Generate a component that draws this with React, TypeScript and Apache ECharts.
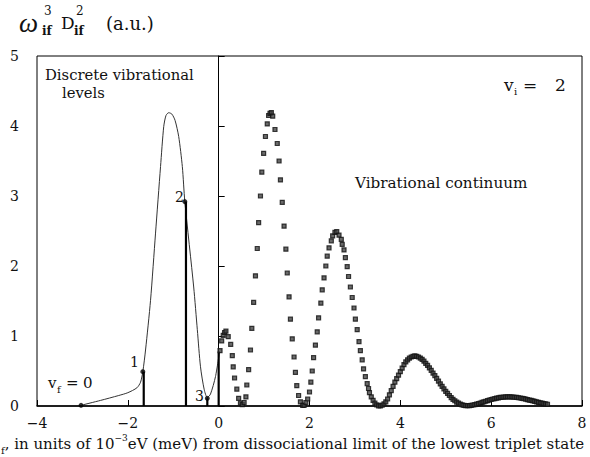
import React, { useEffect, useRef } from "react";
import * as echarts from "echarts";

// Discrete bound-level envelope curve (x in meV, y in a.u.)
const discreteCurve: number[][] = [
  [-3.03, 0.01], [-2.6, 0.08], [-2.2, 0.15], [-2.0, 0.19], [-1.8, 0.26], [-1.72, 0.34],
  [-1.67, 0.49], [-1.61, 0.8], [-1.5, 1.51], [-1.39, 2.47], [-1.28, 3.42], [-1.21, 3.99],
  [-1.16, 4.15], [-1.1, 4.19], [-1.03, 4.17], [-0.96, 4.08], [-0.88, 3.85], [-0.8, 3.42],
  [-0.745, 2.92], [-0.55, 1.7], [-0.47, 1.09], [-0.4, 0.56], [-0.32, 0.24], [-0.25, 0.12],
  [-0.18, 0.17], [-0.07, 0.42], [0.02, 0.78],
];

// Discrete vibrational levels v_f = 0..3
const discreteLevels: number[][] = [
  [-3.03, 0.01], [-1.67, 0.49], [-0.745, 2.92], [-0.25, 0.11],
];

// Stick lines at the discrete levels
const stems: number[][] = [
  [-1.65, 0.49], [-0.72, 2.92], [-0.25, 0.11], [0, 0.78],
];

// Continuum points
const continuum: number[][] = [
  [0.03, 0.79], [0.066, 0.93], [0.1, 1.01], [0.13, 1.05], [0.16, 1.07], [0.21, 0.99],
  [0.265, 0.88], [0.3, 0.72], [0.32, 0.56], [0.35, 0.4], [0.4, 0.24], [0.44, 0.11],
  [0.48, 0.04], [0.52, 0.02], [0.56, 0.05], [0.6, 0.13], [0.62, 0.3], [0.66, 0.52],
  [0.7, 0.8], [0.73, 1.11], [0.77, 1.48], [0.81, 1.86], [0.85, 2.25], [0.88, 2.62],
  [0.92, 3.0], [0.95, 3.34], [0.99, 3.61], [1.03, 3.85], [1.07, 4.03], [1.1, 4.15],
  [1.13, 4.18], [1.16, 4.19], [1.19, 4.14], [1.24, 3.95], [1.29, 3.75], [1.33, 3.5],
  [1.36, 3.23], [1.4, 2.91], [1.44, 2.57], [1.48, 2.24], [1.51, 1.9], [1.55, 1.56],
  [1.58, 1.24], [1.62, 0.96], [1.66, 0.7], [1.69, 0.48], [1.72, 0.29], [1.76, 0.15],
  [1.8, 0.06], [1.85, 0.01], [1.88, 0.01], [1.92, 0.05], [1.96, 0.1], [2.0, 0.2],
  [2.03, 0.34], [2.06, 0.5], [2.09, 0.69], [2.13, 0.87], [2.17, 1.06], [2.2, 1.26],
  [2.25, 1.47], [2.28, 1.66], [2.32, 1.83], [2.36, 2.0], [2.39, 2.14], [2.43, 2.26],
  [2.48, 2.36], [2.51, 2.43], [2.56, 2.48], [2.6, 2.49], [2.65, 2.44], [2.7, 2.38],
  [2.72, 2.31], [2.76, 2.23], [2.79, 2.12], [2.83, 1.99], [2.86, 1.85], [2.9, 1.7],
  [2.94, 1.55], [2.98, 1.4], [3.01, 1.24], [3.05, 1.09], [3.09, 0.92], [3.12, 0.79],
  [3.16, 0.66], [3.19, 0.53], [3.23, 0.42], [3.27, 0.32], [3.3, 0.25],
  [3.32, 0.19], [3.36, 0.13], [3.4, 0.08], [3.44, 0.04], [3.48, 0.015], [3.52, 0.003],
  [3.56, 0.002], [3.6, 0.012], [3.64, 0.03], [3.68, 0.06], [3.72, 0.1], [3.76, 0.16],
  [3.8, 0.22], [3.84, 0.28], [3.88, 0.34], [3.92, 0.39], [3.96, 0.44], [4.0, 0.49],
  [4.04, 0.54], [4.08, 0.59], [4.12, 0.63], [4.16, 0.66], [4.2, 0.685], [4.24, 0.7],
  [4.28, 0.71], [4.32, 0.715], [4.36, 0.71], [4.4, 0.7], [4.44, 0.685], [4.48, 0.665],
  [4.52, 0.64], [4.56, 0.61], [4.6, 0.58], [4.64, 0.545], [4.68, 0.51], [4.72, 0.47],
  [4.76, 0.435], [4.8, 0.395], [4.84, 0.355], [4.88, 0.315], [4.92, 0.28], [4.96, 0.245],
  [5.0, 0.21], [5.04, 0.18], [5.08, 0.15], [5.12, 0.12], [5.16, 0.095], [5.2, 0.075],
  [5.24, 0.055], [5.28, 0.04], [5.32, 0.027], [5.36, 0.017], [5.4, 0.01], [5.44, 0.005],
  [5.48, 0.004], [5.52, 0.005], [5.56, 0.008], [5.6, 0.014], [5.64, 0.02], [5.68, 0.026],
  [5.72, 0.034], [5.76, 0.042], [5.8, 0.051], [5.84, 0.06], [5.88, 0.068], [5.92, 0.077],
  [5.96, 0.085], [6.0, 0.093], [6.04, 0.1], [6.08, 0.106], [6.12, 0.112], [6.16, 0.117],
  [6.2, 0.122], [6.24, 0.125], [6.28, 0.128], [6.32, 0.129], [6.36, 0.13], [6.4, 0.13],
  [6.44, 0.129], [6.48, 0.128], [6.52, 0.125], [6.56, 0.122], [6.6, 0.118], [6.64, 0.114],
  [6.68, 0.109], [6.72, 0.104], [6.76, 0.098], [6.8, 0.092], [6.84, 0.085], [6.88, 0.079],
  [6.92, 0.072], [6.96, 0.065], [7.0, 0.059], [7.04, 0.052], [7.08, 0.046], [7.12, 0.04],
  [7.16, 0.034], [7.2, 0.029], [7.24, 0.025],
];

const xTicks = { min: -4, max: 8, interval: 2 };
const yTicks = { min: 0, max: 5, interval: 1 };

const FONT = "DejaVu Serif";

function txt(x: number, y: number, text: string, size: number, extra: any = {}) {
  return {
    type: "text",
    x,
    y,
    style: {
      text,
      fontFamily: FONT,
      fontSize: size,
      fill: "#111",
      textVerticalAlign: "middle",
      ...extra,
    },
  };
}

export default function App() {
  const ref = useRef<HTMLDivElement>(null);
  useEffect(() => {
    if (!ref.current) return;
    const chart = echarts.init(ref.current, null, { renderer: "svg" });
    const minus = (v: number) => (v < 0 ? "\u2212" + Math.abs(v) : String(v));
    const stemSeries = stems.map((s) => ({
      type: "line",
      data: [[s[0], 0], [s[0], s[1]]],
      showSymbol: false,
      lineStyle: { color: "#000", width: 2.2 },
      silent: true,
      z: 3,
    }));
    chart.setOption({
      animation: false,
      backgroundColor: "#fff",
      grid: { left: 37, right: 8, top: 56, bottom: 51, show: true, borderColor: "#000", borderWidth: 1 },
      xAxis: {
        type: "value",
        min: xTicks.min,
        max: xTicks.max,
        interval: xTicks.interval,
        axisLine: { lineStyle: { color: "#000", width: 1.5 } },
        axisTick: { inside: true, length: 6, lineStyle: { color: "#000" } },
        splitLine: { show: false },
        axisLabel: { color: "#111", fontFamily: FONT, fontSize: 14, margin: 10, formatter: minus },
      },
      yAxis: {
        type: "value",
        min: yTicks.min,
        max: yTicks.max,
        interval: yTicks.interval,
        axisLine: { show: true, lineStyle: { color: "#000", width: 1 } },
        axisTick: { show: true, inside: true, length: 6, lineStyle: { color: "#000" } },
        splitLine: { show: false },
        axisLabel: { color: "#111", fontFamily: FONT, fontSize: 14, margin: 18, formatter: minus },
      },
      series: [
        {
          type: "line",
          data: discreteCurve,
          smooth: 0.25,
          showSymbol: false,
          lineStyle: { color: "#333", width: 1 },
          z: 2,
          markLine: {
            silent: true,
            symbol: "none",
            label: { show: false },
            lineStyle: { color: "#000", width: 1, type: "solid" },
            data: [{ xAxis: 0 }],
          },
        },
        ...stemSeries,
        {
          type: "scatter",
          data: discreteLevels,
          symbol: "circle",
          symbolSize: 5,
          itemStyle: { color: "#000" },
          z: 4,
        },
        {
          type: "scatter",
          data: continuum,
          symbol: "rect",
          symbolSize: 4,
          itemStyle: { color: "#444", borderColor: "#111", borderWidth: 1.2 },
          z: 5,
        },
      ],
      graphic: [
        txt(19, 23, "\u03c9", 27, { fontFamily: "Liberation Serif", fontStyle: "italic" }),
        txt(44, 11, "3", 12),
        txt(42, 31, "if", 12, { fontWeight: "bold" }),
        txt(61, 23, "D", 17),
        txt(76, 11, "2", 12),
        txt(74, 31, "if", 12, { fontWeight: "bold" }),
        txt(106, 23, "(a.u.)", 18),
        txt(45, 74, "Discrete vibrational", 14.8),
        txt(62, 92, "levels", 14.8),
        txt(504, 85, "v", 17),
        txt(514, 91, "i", 10),
        txt(523, 85, "=", 17),
        txt(555, 85, "2", 17),
        txt(355, 183, "Vibrational continuum", 15.2),
        txt(48, 383, "v", 15),
        txt(57, 389, "f", 10),
        txt(66, 383, "=", 15),
        txt(83, 383, "0", 15),
        txt(130, 362, "1", 14),
        txt(175, 197, "2", 14),
        txt(195, 396, "3", 14),
        {
          type: "text",
          x: 1,
          y: 444,
          style: {
            text: "{s|f}{t|, in units of 10}{p|\u22123}{t|eV (meV) from dissociational limit of the lowest triplet state}",
            textVerticalAlign: "middle",
            fill: "#111",
            rich: {
              t: { fontFamily: FONT, fontSize: 15, lineHeight: 22, fill: "#111" },
              s: { fontFamily: FONT, fontSize: 10, lineHeight: 12, verticalAlign: "bottom", fill: "#111" },
              p: { fontFamily: FONT, fontSize: 9, lineHeight: 10, verticalAlign: "top", fill: "#111" },
            },
          },
        },
      ],
    });
    return () => chart.dispose();
  }, []);
  return (
    <div
      ref={ref}
      style={{ position: "fixed", left: 0, top: 0, width: 590, height: 457, background: "#fff" }}
    />
  );
}
